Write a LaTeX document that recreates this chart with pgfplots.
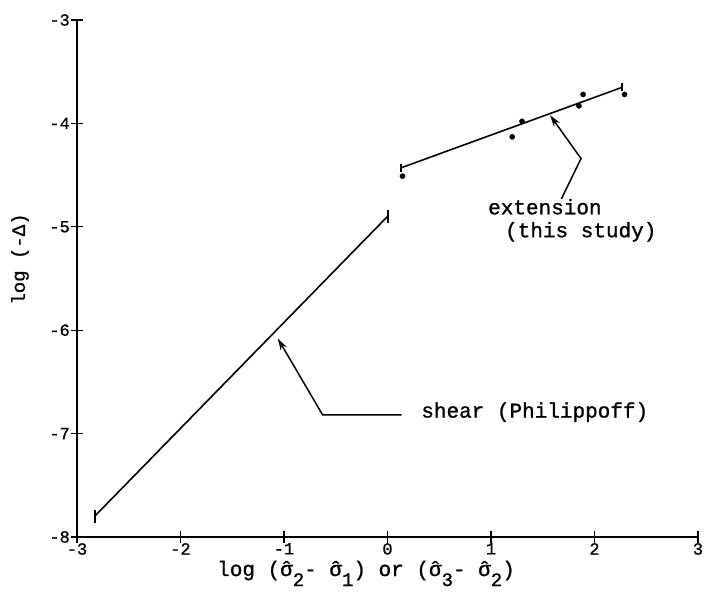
\documentclass[border=0pt]{standalone}
\usepackage{pgfplots}
\pgfplotsset{compat=1.18}
\usepackage{fontspec}
\setmainfont[FakeBold=1]{Liberation Mono}
\usetikzlibrary{arrows.meta}
\newcommand{\sh}{\ooalign{σ\cr\hidewidth ˆ\hidewidth}}
\newcommand{\sub}[1]{\raisebox{-10pt}{\fontsize{19}{19}\selectfont #1}}
\newcommand{\tl}[1]{{\fontsize{17}{17}\selectfont #1}}
\begin{document}
\begin{tikzpicture}[x=1pt,y=1pt]
\useasboundingbox (0,0) rectangle (704,592);
\begin{axis}[
  at={(77pt,55pt)}, anchor=south west,
  scale only axis, width=621pt, height=517pt,
  xmin=-3, xmax=3, ymin=-8, ymax=-3,
  axis x line*=bottom, axis y line*=left,
  x axis line style={line width=2pt, -},
  y axis line style={line width=2.8pt, -},
  xtick={-3,-2,-1,0,1,2,3}, ytick={-8,-7,-6,-5,-4,-3},
  xticklabels={\tl{-3},\tl{-2},\tl{-1},\tl{0},\tl{1},\tl{2},\tl{3}},
  yticklabels={\tl{-8},\tl{-7},\tl{-6},\tl{-5},\tl{-4},\tl{-3}},
  tick align=center, major tick length=12pt,
  tick style={line width=1.3pt, black},
  xticklabel style={inner sep=0pt, yshift=0pt},
  yticklabel style={inner sep=0pt, xshift=-1pt},
  clip=false,
]
\addplot[black, line width=1.6pt, mark=|, mark size=6.5pt, mark options={line width=2pt}]
  coordinates {(-2.83,-7.80) (0.0,-4.90)};
\addplot[black, line width=1.6pt, mark=|, mark size=4pt, mark options={line width=2pt}]
  coordinates {(0.13,-4.43) (2.27,-3.65)};
\addplot[only marks, mark=*, mark size=2.6pt, black]
  coordinates {(0.145,-4.51) (1.205,-4.13) (1.30,-3.98) (1.85,-3.83) (1.89,-3.72) (2.29,-3.72)};
\draw[line width=1.5pt, -{Stealth[length=12pt,width=7pt]}]
  (axis cs:0.137,-6.82) -- (axis cs:-0.626,-6.82) -- (axis cs:-1.06,-6.08);
\draw[line width=1.5pt, -{Stealth[length=12pt,width=7pt]}]
  (axis cs:1.68,-4.73) -- (axis cs:1.87,-4.34) -- (axis cs:1.57,-3.92);
\node[anchor=base west, inner sep=0, font=\fontsize{21}{21}\selectfont] at (axis cs:0.325,-6.845) {shear (Philippoff)};
\node[anchor=base west, inner sep=0, font=\fontsize{21}{21}\selectfont] at (axis cs:0.971,-4.879) {extension};
\node[anchor=base west, inner sep=0, font=\fontsize{21}{21}\selectfont] at (axis cs:1.135,-5.101) {(this study)};
\end{axis}
\node[anchor=base west, inner sep=0, font=\fontsize{21}{21}\selectfont] at (217,16)
  {log (\sh\sub{2}- \sh\sub{1}) or (\sh\sub{3}- \sh\sub{2})};
\node[rotate=90, inner sep=0, font=\fontsize{19}{19}\selectfont] at (20,333) {log (-Δ)};
\end{tikzpicture}
\end{document}
